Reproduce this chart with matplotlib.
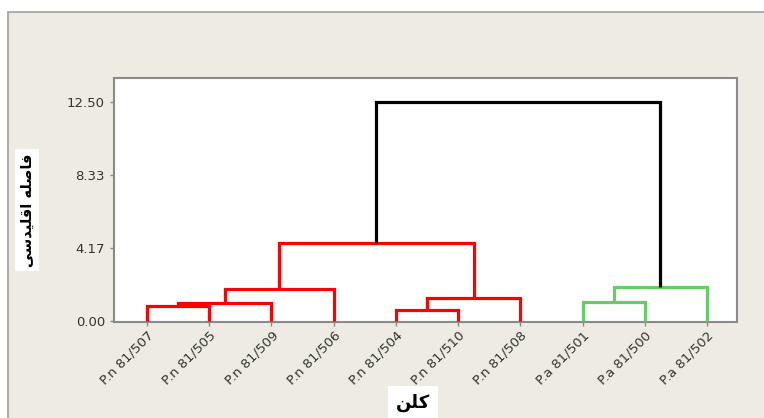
import matplotlib
matplotlib.use("Agg")
import matplotlib.pyplot as plt
from matplotlib.patches import Rectangle

# leaves in display order
leaves = ["P.n 81/507", "P.n 81/505", "P.n 81/509", "P.n 81/506", "P.n 81/504",
          "P.n 81/510", "P.n 81/508", "P.a 81/501", "P.a 81/500", "P.a 81/502"]

# merges (cluster a, cluster b) - new cluster ids start at len(leaves)
merge_a = [0, 10, 11, 4, 13, 12, 7, 16, 15]
merge_b = [1, 2, 3, 5, 6, 14, 8, 9, 17]
heights = [0.86, 1.03, 1.83, 0.63, 1.33, 4.46, 1.09, 1.94, 12.50]
colors = ["#ff0000"] * 6 + ["#66cc66"] * 2 + ["#000000"]

yticks = [0.0, 4.17, 8.33, 12.50]
ytick_labels = ["0.00", "4.17", "8.33", "12.50"]

# pre-shaped persian text (visual order)
ylabel = "\ufef0\ufeb3\ufeaa\ufef4\ufee0\ufed7\ufe8d \ufeea\ufee0\ufebb\ufe8e\ufed3"
xlabel = "\ufee6\ufee0\ufb90"

fig = plt.figure(figsize=(7.64, 4.18), dpi=100)
fig.patch.set_facecolor("white")
fig.add_artist(Rectangle((8 / 764, -0.01), 1.0, 1 - 12 / 418 + 0.01,
                         transform=fig.transFigure, facecolor="#eeebe2",
                         edgecolor="#a0a0a0", lw=1.2, zorder=-5))

ax = fig.add_axes([114 / 764, 1 - 322 / 418, (737 - 114) / 764, (322 - 78) / 418])
ax.set_facecolor("white")

# positions of clusters
xpos = {i: i + 1 for i in range(len(leaves))}
ypos = {i: 0.0 for i in range(len(leaves))}
n = len(leaves)
for k in range(len(heights)):
    a, b, h = merge_a[k], merge_b[k], heights[k]
    xa, xb = xpos[a], xpos[b]
    ax.plot([xa, xa, xb, xb], [ypos[a], h, h, ypos[b]], color=colors[k],
            lw=2.3, solid_joinstyle="miter", solid_capstyle="butt", zorder=3)
    xpos[n + k] = (xa + xb) / 2
    ypos[n + k] = h

ax.set_xlim(0.47, 10.48)
ax.set_ylim(-0.05, 13.87)
ax.set_yticks(yticks)
ax.set_yticklabels(ytick_labels, fontsize=9.5, color="#333333")
ax.set_xticks(range(1, n + 1))
ax.set_xticklabels(leaves, rotation=45, ha="right", rotation_mode="anchor",
                   fontsize=9.5, color="#333333")
ax.tick_params(axis="both", direction="out", length=3, color="#888888", width=1)
ax.tick_params(axis="x", pad=2)
for s in ax.spines.values():
    s.set_color("#8a8a8a")
    s.set_linewidth(1.5)

fig.text(27 / 764, 1 - 210 / 418, ylabel, rotation=90, ha="center", va="center",
         fontsize=10.5, fontweight="bold", family=["DejaVu Sans"],
         bbox=dict(facecolor="white", edgecolor="none", pad=3))
fig.text(413 / 764, 1 - 403 / 418, xlabel, ha="center", va="center",
         fontsize=13, fontweight="bold", family=["DejaVu Sans"],
         bbox=dict(facecolor="white", edgecolor="none", pad=6))

fig.savefig("out.png", dpi=100)
